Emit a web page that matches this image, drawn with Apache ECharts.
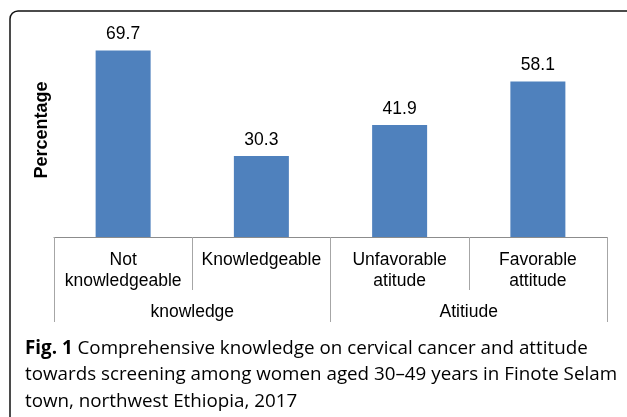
<!DOCTYPE html>
<html><head><meta charset="utf-8">
<script src="https://cdn.jsdelivr.net/npm/echarts@6/dist/echarts.min.js"></script>
<style>html,body{margin:0;padding:0;background:#fff}#c{width:627px;height:417px}</style>
</head><body><div id="c"></div>
<script>
var categories = ['Not\nknowledgeable', 'Knowledgeable', 'Unfavorable\natitude', 'Favorable\nattitude'];
var groups = ['knowledge', 'Atitiude'];
var values = [69.7, 30.3, 41.9, 58.1];
var yTitle = 'Percentage';
var captionBold = 'Fig. 1';
var captionLines = [' Comprehensive knowledge on cervical cancer and attitude',
  'towards screening among women aged 30\u201349 years in Finote Selam',
  'town, northwest Ethiopia, 2017'];

var chart = echarts.init(document.getElementById('c'));
chart.setOption({
  animation: false,
  backgroundColor: '#fff',
  grid: {left: 54, right: 20, top: 23, bottom: 180},
  xAxis: [{
    type: 'category', data: categories, position: 'bottom',
    axisLine: {lineStyle: {color: '#8c8c8c', width: 1}},
    axisTick: {show: true, interval: 0, length: 53, lineStyle: {color: '#a6a6a6'}},
    axisLabel: {interval: 0, margin: 13, color: '#000', fontFamily: 'Liberation Sans', fontSize: 17.5, lineHeight: 21}
  }, {
    type: 'category', data: groups, position: 'bottom',
    axisLine: {show: false},
    axisTick: {show: true, interval: 0, length: 85, lineStyle: {color: '#a6a6a6'}},
    axisLabel: {interval: 0, margin: 66, color: '#000', fontFamily: 'Liberation Sans', fontSize: 17.5}
  }],
  yAxis: {
    type: 'value', min: 0, max: 80, show: true,
    axisLine: {show: false}, axisTick: {show: false}, axisLabel: {show: false}, splitLine: {show: false},
    name: yTitle, nameLocation: 'middle', nameGap: 3,
    nameTextStyle: {fontFamily: 'Liberation Sans', fontWeight: 'bold', fontSize: 18, color: '#000'}
  },
  series: [{
    type: 'bar', xAxisIndex: 0, data: values, barWidth: 55,
    itemStyle: {color: '#4F81BD'},
    label: {show: true, position: 'top', distance: 7, color: '#000', fontFamily: 'Liberation Sans', fontSize: 17.5}
  }],
  graphic: [{
    type: 'rect', shape: {x: 10, y: 11, width: 640, height: 440, r: 8},
    style: {fill: null, stroke: '#111', lineWidth: 1.5}, silent: true
  }, {
    type: 'text', left: 25, top: 339,
    style: {
      text: '{b|' + captionBold + '}{n|' + captionLines[0] + '}\n{n|' + captionLines[1] + '}\n{n|' + captionLines[2] + '}',
      rich: {
        b: {fontFamily: 'Open Sans', fontWeight: 'bold', fontSize: 18.8, color: '#333', lineHeight: 26.5},
        n: {fontFamily: 'Open Sans', fontSize: 18.8, color: '#666', lineHeight: 26.5}
      }
    }
  }]
});
</script></body></html>
